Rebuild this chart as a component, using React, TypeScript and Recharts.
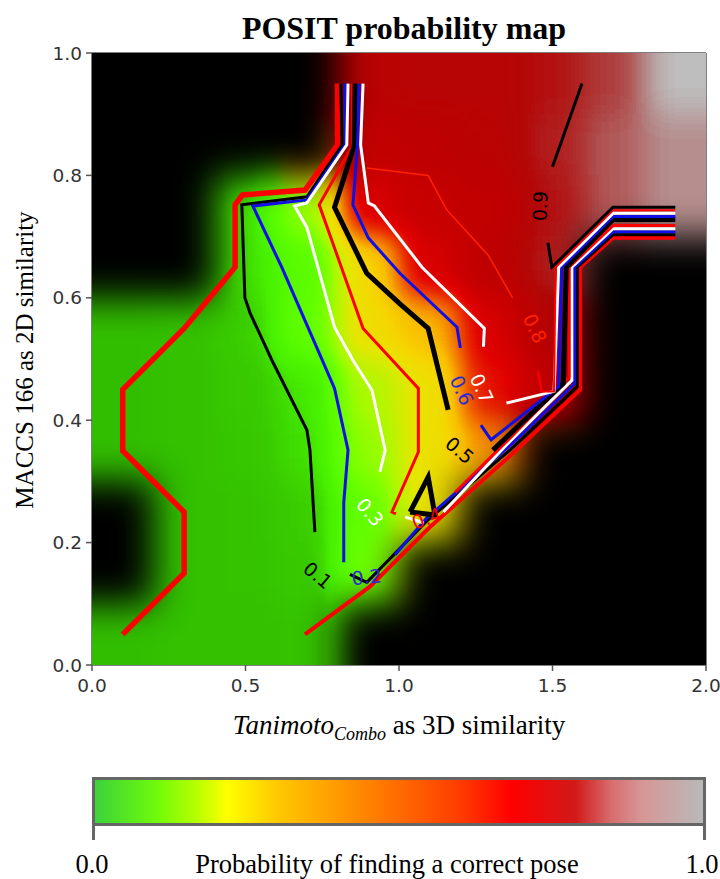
import React from "react";
import { ScatterChart, Scatter, XAxis, YAxis, Label } from "recharts";

// heat map grid, cell centres
const columns = [0.1, 0.3, 0.5, 0.7, 0.9, 1.1, 1.3, 1.5, 1.7, 1.9];
const rows = [0.95, 0.85, 0.75, 0.65, 0.55, 0.45, 0.35, 0.25, 0.15, 0.05];

const probabilityRows = [
  [0, 0, 0.8, 0.8, 0.82, 0.83, 0.83, 0.86, 0.9, 1.0],
  [0, 0, 0.02, 0.55, 0.78, 0.8, 0.82, 0.87, 0.92, 0.96],
  [0, 0, 0.08, 0.28, 0.72, 0.77, 0.79, 0.86, 0.92, 0.96],
  [0, 0, 0.08, 0.17, 0.45, 0.72, 0.8, 0.87, 0.92, 0.96],
  [0, 0.01, 0.05, 0.19, 0.43, 0.5, 0.72, 0.83, 0.85, 0.9],
  [0, 0.01, 0.04, 0.09, 0.31, 0.42, 0.68, 0.78, 0.8, 0.8],
  [0, 0.01, 0.03, 0.08, 0.27, 0.42, 0.55, 0.6, 0.6, 0.6],
  [0, 0.01, 0.02, 0.05, 0.2, 0.42, 0.45, 0.5, 0.5, 0.5],
  [0, 0.01, 0.02, 0.04, 0.22, 0.35, 0.45, 0.5, 0.5, 0.5],
  [0, 0.01, 0.01, 0.02, 0.2, 0.3, 0.4, 0.5, 0.5, 0.5],
];

// 1 = no data, drawn black
const emptyRows = [
  [1, 1, 1, 1, 0, 0, 0, 0, 0, 0],
  [1, 1, 1, 1, 0, 0, 0, 0, 0, 0],
  [1, 1, 0, 0, 0, 0, 0, 0, 0, 0],
  [1, 1, 0, 0, 0, 0, 0, 0, 1, 1],
  [0, 0, 0, 0, 0, 0, 0, 0, 1, 1],
  [0, 0, 0, 0, 0, 0, 0, 0, 1, 1],
  [0, 0, 0, 0, 0, 0, 0, 1, 1, 1],
  [1, 0, 0, 0, 0, 0, 1, 1, 1, 1],
  [1, 0, 0, 0, 0, 1, 1, 1, 1, 1],
  [0, 0, 0, 0, 1, 1, 1, 1, 1, 1],
];

// colour of the map for v = 0, 0.05 ... 1
const mapRed = [50, 58, 72, 85, 100, 130, 170, 200, 230, 245, 250, 245, 240, 232, 225, 205, 190, 180, 175, 180, 190];
const mapGreen = [190, 205, 240, 250, 255, 255, 250, 240, 230, 215, 190, 140, 90, 40, 0, 0, 0, 8, 60, 130, 190];
const mapBlue = [0, 0, 0, 0, 0, 0, 0, 0, 0, 0, 0, 0, 0, 0, 0, 0, 0, 8, 60, 130, 190];

const colorbarStops = [
  [0, "#3cd23c"], [0.1, "#6efa0a"], [0.165, "#b4ff00"], [0.217, "#ffff00"], [0.3, "#ffc800"],
  [0.45, "#ff8200"], [0.6, "#ff3c00"], [0.686, "#ff0000"], [0.79, "#d21919"], [0.85, "#d76e6e"],
  [0.9, "#d79696"], [1, "#b9b9b9"],
];

const xTicks = [0, 0.5, 1, 1.5, 2];
const yTicks = [0, 0.2, 0.4, 0.6, 0.8, 1];

// contour pieces as [x, y]
const level0 = [[0.1, 0.05], [0.3, 0.15], [0.3, 0.25], [0.1, 0.35], [0.1, 0.45], [0.3, 0.55], [0.466, 0.65], [0.466, 0.752], [0.49, 0.768], [0.694, 0.776], [0.8, 0.85], [0.8, 0.95]];
const level0b = [[0.694, 0.05], [0.905, 0.128], [1.1, 0.225], [1.38, 0.35], [1.59, 0.45], [1.59, 0.65], [1.697, 0.698], [1.9, 0.698]];
const level1 = [[0.81, 0.95], [0.815, 0.85], [0.7, 0.765], [0.488, 0.752], [0.498, 0.6], [0.515, 0.575], [0.586, 0.498], [0.7, 0.384], [0.71, 0.351], [0.726, 0.217]];
const level1b = [[0.84, 0.148], [0.895, 0.135], [1.09, 0.235], [1.37, 0.355], [1.581, 0.455], [1.581, 0.65], [1.697, 0.703], [1.9, 0.703]];
const level2 = [[0.824, 0.95], [0.825, 0.85], [0.7, 0.76], [0.524, 0.75], [0.618, 0.65], [0.75, 0.498], [0.79, 0.452], [0.834, 0.351], [0.82, 0.265], [0.82, 0.168]];
const level2b = [[0.987, 0.18], [1.09, 0.24], [1.365, 0.36], [1.572, 0.46], [1.572, 0.65], [1.697, 0.708], [1.9, 0.708]];
const level3 = [[0.834, 0.95], [0.83, 0.85], [0.7, 0.755], [0.66, 0.75], [0.7, 0.715], [0.79, 0.552], [0.85, 0.498], [0.912, 0.449], [0.955, 0.351], [0.938, 0.316]];
const level3b = [[1.02, 0.242], [1.08, 0.232]];
const level3c = [[1.145, 0.25], [1.36, 0.365], [1.563, 0.465], [1.563, 0.65], [1.697, 0.713], [1.9, 0.713]];
const level4 = [[0.847, 0.95], [0.85, 0.85], [0.74, 0.752], [0.883, 0.55], [1.063, 0.452], [1.063, 0.348], [0.977, 0.25], [0.99, 0.247]];
const level4b = [[1.183, 0.282], [1.36, 0.37], [1.554, 0.47], [1.554, 0.65], [1.697, 0.718], [1.9, 0.718]];
const level5 = [[0.857, 0.95], [0.855, 0.85], [0.79, 0.748], [0.895, 0.64], [1.003, 0.59], [1.095, 0.55], [1.16, 0.417]];
const level5b = [[1.036, 0.25], [1.095, 0.307], [1.117, 0.245], [1.036, 0.25]];
const level5c = [[1.306, 0.351], [1.535, 0.46], [1.545, 0.65], [1.697, 0.728], [1.9, 0.728]];
const level6 = [[0.87, 0.95], [0.865, 0.85], [0.85, 0.752], [0.9, 0.698], [1.003, 0.64], [1.189, 0.552], [1.2, 0.518]];
const level6b = [[1.267, 0.392], [1.3, 0.368], [1.52, 0.455], [1.53, 0.65], [1.697, 0.733], [1.9, 0.733]];
const level7 = [[0.883, 0.95], [0.875, 0.85], [0.9, 0.755], [0.92, 0.75], [1.075, 0.65], [1.278, 0.55], [1.275, 0.52]];
const level7b = [[1.35, 0.428], [1.505, 0.447], [1.52, 0.65], [1.697, 0.738], [1.9, 0.738]];
const level8 = [[0.895, 0.812], [1.095, 0.8], [1.155, 0.744], [1.29, 0.67], [1.37, 0.6]];
const level8b = [[1.453, 0.48], [1.465, 0.447], [1.505, 0.447], [1.51, 0.65], [1.697, 0.743], [1.9, 0.743]];
const level9 = [[1.5, 0.814], [1.596, 0.95]];
const level9b = [[1.485, 0.69], [1.498, 0.65], [1.697, 0.748], [1.9, 0.748]];

const RED = "#ff0000";
const BLUE = "#1010e6";
const WHITE = "#ffffff";
const BLACK = "#000000";

// back to front
const contourPieces: [number[][], string, number][] = [
  [level0, RED, 5.5],
  [level0b, RED, 4],
  [level1, BLACK, 3],
  [level1b, BLACK, 3],
  [level2, BLUE, 3],
  [level2b, BLUE, 3],
  [level3, WHITE, 3],
  [level3b, WHITE, 3],
  [level3c, WHITE, 3],
  [level4, RED, 3],
  [level4b, RED, 3],
  [level5, BLACK, 5],
  [level5b, BLACK, 5],
  [level5c, BLACK, 5],
  [level6, BLUE, 3],
  [level6b, BLUE, 3],
  [level7, WHITE, 3],
  [level7b, WHITE, 3],
  [level8, "#ff2200", 1.5],
  [level8b, RED, 2],
  [level9, BLACK, 3],
  [level9b, BLACK, 3],
];

const contourLabels = [
  { x: 0.736, y: 0.147, text: "0.1", angle: 40, color: BLACK },
  { x: 0.895, y: 0.144, text: "0.2", angle: -5, color: "#2a2ad8" },
  { x: 0.906, y: 0.25, text: "0.3", angle: 50, color: WHITE },
  { x: 1.09, y: 0.24, text: "0.4", angle: -20, color: RED },
  { x: 1.198, y: 0.351, text: "0.5", angle: 40, color: BLACK },
  { x: 1.205, y: 0.449, text: "0.6", angle: 65, color: "#2a2ad8" },
  { x: 1.27, y: 0.452, text: "0.7", angle: 65, color: WHITE },
  { x: 1.443, y: 0.55, text: "0.8", angle: 65, color: "#ff2200" },
  { x: 1.459, y: 0.75, text: "0.9", angle: -88, color: BLACK },
];

const cellW = 61.4;
const cellH = 61.2;
const overhang = 60;

const valueCells = rows.flatMap((y, r) =>
  columns.map((x, c) => ({ x, y, r, c, v: probabilityRows[r][c] }))
);
const emptyCells = rows.flatMap((y, r) =>
  columns.flatMap((x, c) => (emptyRows[r][c] ? [{ x, y, r, c, v: 0 }] : []))
);

const CellShape = (props: any) => {
  const { cx, cy, payload } = props;
  const left = cx - cellW / 2 - (payload.c === 0 ? overhang : 0);
  const right = cx + cellW / 2 + (payload.c === columns.length - 1 ? overhang : 0);
  const top = cy - cellH / 2 - (payload.r === 0 ? overhang : 0);
  const bottom = cy + cellH / 2 + (payload.r === rows.length - 1 ? overhang : 0);
  const g = Math.round(payload.v * 255);
  return (
    <rect
      x={left - 0.5}
      y={top - 0.5}
      width={right - left + 1}
      height={bottom - top + 1}
      fill={`rgb(${g},${g},${g})`}
    />
  );
};

const EmptyShape = (props: any) => {
  const { cx, cy, payload } = props;
  const left = cx - cellW / 2 - (payload.c === 0 ? overhang : 0);
  const right = cx + cellW / 2 + (payload.c === columns.length - 1 ? overhang : 0);
  const top = cy - cellH / 2 - (payload.r === 0 ? overhang : 0);
  const bottom = cy + cellH / 2 + (payload.r === rows.length - 1 ? overhang : 0);
  return <rect x={left - 0.5} y={top - 0.5} width={right - left + 1} height={bottom - top + 1} fill="#000" />;
};

const LabelShape = (props: any) => {
  const { cx, cy, payload } = props;
  return (
    <text
      x={cx}
      y={cy}
      transform={`rotate(${payload.angle} ${cx} ${cy})`}
      textAnchor="middle"
      dominantBaseline="central"
      fill={payload.color}
      fontSize={19}
      fontFamily="DejaVu Sans"
    >
      {payload.text}
    </text>
  );
};

const NoPoint = () => <g />;
const NoTick = () => <g />;

const serif = "Liberation Serif";
const axisGray = "#555555";
const tickStyle = { fontSize: 18.5, fontFamily: "DejaVu Sans", fill: "#333333" };
const cssStops = colorbarStops.map(([p, c]) => `${c} ${(p as number) * 100}%`).join(",");

const XTitle = () => (
  <text x={399} y={734} textAnchor="middle" fontFamily={serif} fontSize={27} fill="#000">
    <tspan fontStyle="italic">Tanimoto</tspan>
    <tspan fontStyle="italic" fontSize={18} dy={6}>Combo</tspan>
    <tspan dy={-6}> as 3D similarity</tspan>
  </text>
);

const YTitle = () => (
  <text x={24} y={360} transform="rotate(-90 24 360)" textAnchor="middle" dominantBaseline="central" fontFamily={serif} fontSize={25} fill="#000">
    MACCS 166 as 2D similarity
  </text>
);

const barText = { position: "absolute" as const, top: 851, textAlign: "center" as const, fontFamily: serif, fontSize: 26.5, lineHeight: "26px" };

export default function App() {
  return (
    <div style={{ position: "absolute", left: 0, top: 0, width: 720, height: 879, overflow: "hidden", background: "#fff" }}>
      <style>{`
        .heat-values { filter: url(#valueMap); clip-path: url(#plotClip); }
        .heat-empty { filter: url(#softEdge); clip-path: url(#plotClip); }
      `}</style>
      <svg width={0} height={0} style={{ position: "absolute" }}>
        <defs>
          <filter id="valueMap" x="-20%" y="-20%" width="140%" height="140%" colorInterpolationFilters="sRGB">
            <feGaussianBlur stdDeviation={16} />
            <feComponentTransfer>
              <feFuncR type="table" tableValues={mapRed.map((d) => d / 255).join(" ")} />
              <feFuncG type="table" tableValues={mapGreen.map((d) => d / 255).join(" ")} />
              <feFuncB type="table" tableValues={mapBlue.map((d) => d / 255).join(" ")} />
            </feComponentTransfer>
          </filter>
          <filter id="softEdge" x="-20%" y="-20%" width="140%" height="140%" colorInterpolationFilters="sRGB">
            <feGaussianBlur stdDeviation={18} />
          </filter>
          <clipPath id="plotClip">
            <rect x={92} y={53} width={614} height={612} />
          </clipPath>
        </defs>
      </svg>

      <div style={{ position: "absolute", left: 0, top: 10, width: 808, textAlign: "center", fontFamily: serif, fontWeight: "bold", fontSize: 32, lineHeight: "36px", color: "#000" }}>
        POSIT probability map
      </div>

      <div style={{ position: "absolute", left: 0, top: 0 }}>
        <ScatterChart width={720} height={745} margin={{ top: 0, right: 0, bottom: 0, left: 0 }}>
          <XAxis
            type="number"
            dataKey="x"
            domain={[0, 2]}
            ticks={xTicks}
            interval={0}
            height={80}
            tickFormatter={(d: number) => d.toFixed(1)}
            tick={tickStyle}
            tickSize={6}
            tickMargin={8}
            stroke={axisGray}
            strokeWidth={1.5}
          >
            <Label content={<XTitle />} />
          </XAxis>
          <XAxis xAxisId="top" orientation="top" type="number" dataKey="x" domain={[0, 2]} ticks={xTicks} interval={0} height={53} tick={<NoTick />} tickSize={6} stroke={axisGray} strokeWidth={1.5} />
          <YAxis
            type="number"
            dataKey="y"
            domain={[0, 1]}
            ticks={yTicks}
            interval={0}
            width={92}
            tickFormatter={(d: number) => d.toFixed(1)}
            tick={tickStyle}
            tickSize={6}
            tickMargin={4}
            stroke={axisGray}
            strokeWidth={1.5}
          >
            <Label content={<YTitle />} />
          </YAxis>
          <YAxis yAxisId="right" orientation="right" type="number" dataKey="y" domain={[0, 1]} ticks={yTicks} interval={0} width={14} tick={<NoTick />} tickSize={6} stroke={axisGray} strokeWidth={1.5} />

          <Scatter className="heat-values" data={valueCells} shape={<CellShape />} isAnimationActive={false} />
          <Scatter className="heat-empty" data={emptyCells} shape={<EmptyShape />} isAnimationActive={false} />

          {contourPieces.map(([points, color, width], i) => (
            <Scatter
              key={i}
              data={points.map(([x, y]) => ({ x, y }))}
              line={{ stroke: color, strokeWidth: width }}
              shape={<NoPoint />}
              isAnimationActive={false}
            />
          ))}

          <Scatter data={contourLabels} shape={<LabelShape />} isAnimationActive={false} />
        </ScatterChart>
      </div>

      {/* colour bar */}
      <div style={{ position: "absolute", left: 92, top: 777, width: 608, height: 43, border: "3px solid #666", background: `linear-gradient(to right, ${cssStops})` }} />
      <div style={{ position: "absolute", left: 92, top: 826, width: 3, height: 14, background: "#666" }} />
      <div style={{ position: "absolute", left: 703, top: 826, width: 3, height: 14, background: "#666" }} />
      <div style={{ ...barText, left: 52, width: 80 }}>0.0</div>
      <div style={{ ...barText, left: 87, width: 600 }}>Probability of finding a correct pose</div>
      <div style={{ ...barText, left: 665, width: 74 }}>1.0</div>
    </div>
  );
}
